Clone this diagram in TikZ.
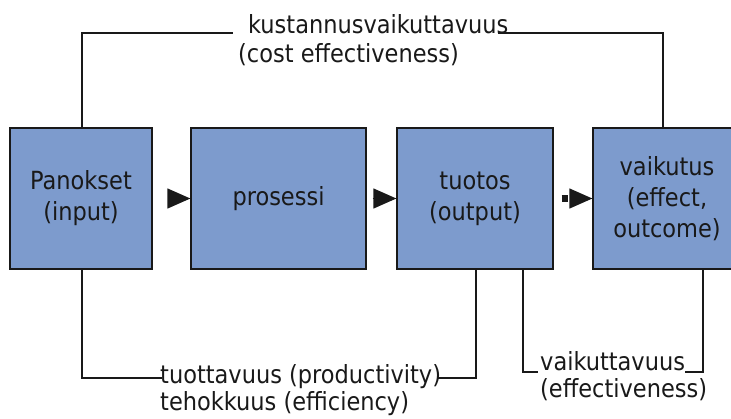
\documentclass[tikz,border=0pt]{standalone}
\usepackage{fontspec}
\setmainfont{DejaVu Sans Condensed}
\usetikzlibrary{arrows.meta}
\definecolor{boxblue}{RGB}{125,155,205}
\definecolor{ink}{RGB}{25,25,25}
\tikzset{
  stage/.style={draw=ink, line width=1.3pt, fill=boxblue, text=ink,
    minimum height=141pt, inner sep=0pt, align=center,
    font=\fontsize{25}{31}\selectfont},
  lbl/.style={inner sep=0pt, text=ink, font=\fontsize{25}{29}\selectfont},
  conn/.style={draw=ink, line width=1.3pt},
  flow/.style={draw=ink, line width=1.3pt,
    -{Triangle[length=23pt,width=20pt]}},
}
\begin{document}
\begin{tikzpicture}[x=1pt,y=-1pt]
\useasboundingbox (0,0) rectangle (731,418);
\clip (0,0) rectangle (731,418);

% the four stages of the chain
\node[stage, minimum width=142pt] (b1) at (81,198.5) {Panokset\\(input)};
\node[stage, minimum width=175pt] (b2) at (278.5,198.5) {prosessi};
\node[stage, minimum width=156pt] (b3) at (475,198.5) {tuotos\\(output)};
\node[stage, minimum width=148pt] (b4) at (667,198.5) {vaikutus\\(effect,\\outcome)};

% flow arrows between the stages
\draw[flow, shorten <=16pt] (b1.east) -- (b2.west);
\draw[flow, shorten <=6pt] (b2.east) -- (b3.west);
\draw[flow, shorten <=16pt] (b3.east) -- (b4.west);
% short heavy stub in front of the last arrow head
\draw[draw=ink, line width=7pt] ([xshift=8pt]b3.east) -- ([xshift=14pt]b3.east);

% measure labels
\node[lbl, anchor=base west] (k1) at (248,33) {kustannusvaikuttavuus};
\node[lbl, anchor=base west] (k2) at (238,62) {(cost effectiveness)};
\node[lbl, anchor=base west] (p1) at (160,383) {tuottavuus (productivity)};
\node[lbl, anchor=base west] (p2) at (160,410) {tehokkuus (efficiency)};
\node[lbl, anchor=base west] (v1) at (540,370) {vaikuttavuus};
\node[lbl, anchor=base west] (v2) at (540,397) {(effectiveness)};

% bracket connectors
\draw[conn] ([xshift=1pt]b1.north) |- ([xshift=-15pt]k1.base west);
\draw[conn] ([xshift=-11pt]k1.base east) -| ([xshift=-4pt]b4.north);
\draw[conn] ([xshift=1pt]b1.south) |- ([xshift=2pt,yshift=5pt]p1.base west);
\draw[conn] ([xshift=-4pt,yshift=5pt]p1.base east) -| ([xshift=1pt]b3.south);
\draw[conn] ([xshift=48pt]b3.south) |- ([xshift=-2pt,yshift=-2pt]v1.base west);
\draw[conn] ([yshift=-2pt]v1.base east) -| ([xshift=36pt]b4.south);
\end{tikzpicture}
\end{document}
